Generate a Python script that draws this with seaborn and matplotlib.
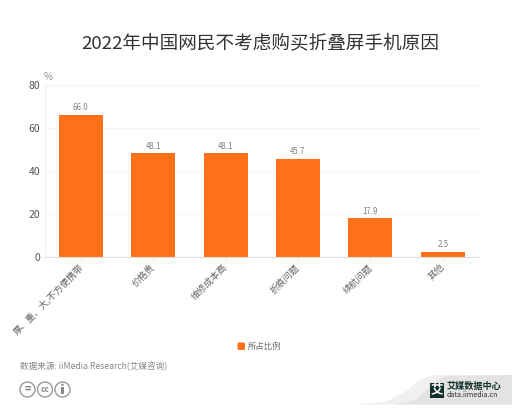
import matplotlib
matplotlib.use("Agg")
import matplotlib.pyplot as plt
from matplotlib.patches import Circle, Polygon, FancyBboxPatch, Rectangle
from matplotlib.transforms import ScaledTranslation
import pandas as pd
import seaborn as sns

categories = ["厚、重、大,不方便携带", "价格贵", "维修成本高", "折痕问题", "续航问题", "其他"]
values = [66.0, 48.1, 48.1, 45.7, 17.9, 2.5]
yticks = [0, 20, 40, 60, 80]
series_name = "所占比例"
title = "2022年中国网民不考虑购买折叠屏手机原因"
source = "数据来源: iiMedia Research(艾媒咨询)"

sns.set_theme(style="white")
plt.rcParams["font.family"] = ["Noto Sans CJK SC", "DejaVu Sans"]
W, H = 520, 412
fig = plt.figure(figsize=(W / 100, H / 100), dpi=100, facecolor="white")
ax = fig.add_axes([44.5 / W, 1 - 257 / H, (479 - 44.5) / W, (257 - 84.7) / H])

df = pd.DataFrame({"cat": categories, "val": values})
sns.barplot(data=df, x="cat", y="val", color="#FF7119", saturation=1, width=0.607,
            linewidth=0, ax=ax)
ax.set_ylim(0, 80)
ax.set_xlim(-0.5, 5.5)
ax.set_yticks(yticks)
ax.set_xlabel("")
ax.set_ylabel("")
ax.yaxis.grid(True, color="#F5F5F5", lw=0.8)
ax.set_axisbelow(True)
for s in ["top", "right"]:
    ax.spines[s].set_visible(False)
ax.spines["left"].set_color("#F0F0F0")
ax.spines["bottom"].set_color("#DDDDDD")
ax.spines["left"].set_linewidth(0.8)
ax.spines["bottom"].set_linewidth(0.8)
ax.tick_params(axis="y", length=0, pad=3, labelsize=7.5, labelcolor="#555555")
ax.tick_params(axis="x", length=2, width=0.6, color="#DDDDDD", bottom=True, pad=2)
ax.set_xticks(range(len(categories)))
ax.set_xticklabels(categories, rotation=45, ha="right", rotation_mode="anchor",
                   fontsize=6.7, color="#666666")
shift = ScaledTranslation(-2 / 72, 0, fig.dpi_scale_trans)
for lab in ax.get_xticklabels():
    lab.set_transform(lab.get_transform() + shift)
for c in ax.containers:
    ax.bar_label(c, labels=[f"{v:.1f}" for v in values], fontsize=5.7, color="#808080", padding=2)

def fx(px):
    return px / W
def fy(py):
    return 1 - py / H

fig.text(fx(260), fy(43.5), title, ha="center", va="center", fontsize=13.4, color="#333333")
fig.text(fx(44), fy(77.5), "%", ha="left", va="center", fontsize=7, color="#888888")
fig.text(fx(248), fy(346), series_name, ha="left", va="center", fontsize=6, color="#666666")
fig.text(fx(20), fy(367), source, ha="left", va="center", fontsize=6.2, color="#888888")

# full-figure overlay in pixel coordinates for legend key, licence icons and logo
ov = fig.add_axes([0, 0, 1, 1], zorder=5)
ov.set_xlim(0, W)
ov.set_ylim(H, 0)
ov.axis("off")
ov.patch.set_alpha(0)
ov.add_patch(FancyBboxPatch((237.5, 342.5), 7.5, 7.5, boxstyle="round,pad=0,rounding_size=1.5",
                            fc="#FF7119", ec="none"))
for cx in (27.5, 45, 62.5):
    ov.add_patch(Circle((cx, 389.5), 7.5, fc="white", ec="#999999", lw=1))
ov.text(27.5, 389.5, "=", ha="center", va="center", fontsize=8, color="#888888", fontweight="bold")
ov.text(45, 389.5, "cc", ha="center", va="center", fontsize=6, color="#888888", fontweight="bold")
ov.add_patch(Circle((62.5, 384.8), 1.2, fc="#888888", ec="none"))
ov.add_patch(Rectangle((60.8, 386.5), 3.4, 7.5, fc="#888888", ec="none"))

ov.add_patch(Polygon([(355, 404.5), (385, 402), (405, 392), (420, 380), (432, 375), (512, 375), (512, 404.5)],
                     closed=True, fc="#F0F0F0", ec="none"))
ov.add_patch(Polygon([(395, 404.5), (415, 400), (432, 385), (445, 376), (512, 375), (512, 404.5)],
                     closed=True, fc="#E3E3E3", ec="none"))
ov.add_patch(Rectangle((430, 382.5), 14, 15, fc="#10302B", ec="none"))
ov.text(437, 389.5, "艾", ha="center", va="center", fontsize=9, color="white", fontweight="bold")
ov.text(447, 386.5, "艾媒数据中心", ha="left", va="center", fontsize=6.6, color="#10302B", fontweight="bold")
ov.text(447, 395.3, "data.iimedia.cn", ha="left", va="center", fontsize=5.1, color="#333333")

fig.savefig("out.png", dpi=100, facecolor="white")
